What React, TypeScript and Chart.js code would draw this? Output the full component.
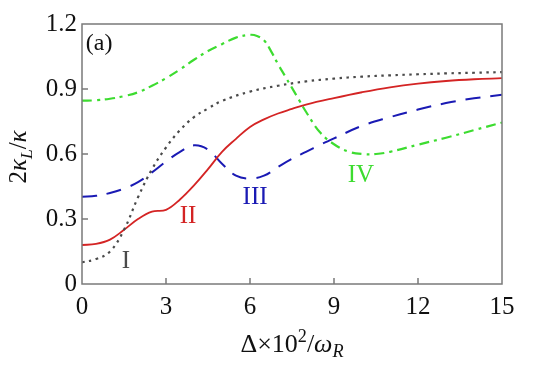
import React, { useEffect, useRef } from "react";
import { Chart, registerables } from "chart.js";

Chart.register(...registerables);

const xI = [0, 0.5, 1, 1.5, 2, 2.5, 3, 3.5, 4, 4.5, 5, 6, 7, 8, 9, 10, 11, 12, 13, 14, 15];
const yI = [0.1, 0.115, 0.15, 0.25, 0.4, 0.53, 0.63, 0.71, 0.77, 0.81, 0.845, 0.888, 0.915, 0.935, 0.948, 0.957, 0.963, 0.968, 0.972, 0.975, 0.978];

const xII = [0, 0.5, 1, 1.5, 2, 2.5, 3, 3.5, 4, 4.5, 5, 5.5, 6, 6.5, 7, 7.5, 8, 9, 10, 11, 12, 13, 14, 15];
const yII = [0.18, 0.185, 0.205, 0.25, 0.3, 0.334, 0.342, 0.39, 0.455, 0.53, 0.61, 0.67, 0.725, 0.76, 0.787, 0.808, 0.828, 0.858, 0.885, 0.908, 0.925, 0.937, 0.945, 0.95];

const xIII = [0, 0.5, 1, 1.5, 2, 2.5, 3, 3.5, 4, 4.5, 5, 5.5, 6, 6.5, 7, 7.5, 8, 8.5, 9, 10, 11, 12, 13, 14, 15];
const yIII = [0.403, 0.407, 0.42, 0.44, 0.47, 0.515, 0.565, 0.61, 0.64, 0.62, 0.555, 0.5, 0.487, 0.5, 0.54, 0.578, 0.61, 0.642, 0.672, 0.73, 0.77, 0.805, 0.835, 0.857, 0.873];

const xIV = [0, 0.5, 1, 1.5, 2, 2.5, 3, 3.5, 4, 4.5, 5, 5.5, 6, 6.25, 6.5, 6.75, 7, 7.25, 7.5, 7.75, 8, 8.5, 9, 9.5, 10, 10.5, 11, 12, 13, 14, 15];
const yIV = [0.846, 0.848, 0.855, 0.867, 0.885, 0.915, 0.95, 0.99, 1.035, 1.075, 1.107, 1.137, 1.15, 1.145, 1.125, 1.075, 1.015, 0.96, 0.905, 0.85, 0.795, 0.7, 0.645, 0.612, 0.6, 0.6, 0.61, 0.643, 0.675, 0.71, 0.745];

const xTicks = [0, 3, 6, 9, 12, 15];
const yTicks = [0, 0.3, 0.6, 0.9, 1.2];

const curveLabels = ["I", "II", "III", "IV"];
const labelX = [1.57, 3.79, 6.18, 9.96];
const labelY = [0.106, 0.31, 0.4, 0.503];
const panelLabel = "(a)";
const panelX = 0.61;
const panelY = 1.108;

const SERIF = "'Liberation Serif', 'Times New Roman', Times, serif";
const colors = ["#4a4a4a", "#d42424", "#1a1ab4", "#3ddc30"];

type Part = { t: string; it?: boolean; sub?: boolean; sup?: boolean };

function drawRich(ctx: CanvasRenderingContext2D, parts: Part[], cx: number, cy: number, size: number, rot: number) {
  ctx.save();
  ctx.translate(cx, cy);
  ctx.rotate(rot);
  ctx.fillStyle = "#111";
  ctx.textBaseline = "alphabetic";
  ctx.textAlign = "left";
  const fontOf = (p: Part) => {
    const s = p.sub || p.sup ? size * 0.7 : size;
    return `${p.it ? "italic " : ""}${s}px ${SERIF}`;
  };
  let total = 0;
  const widths = parts.map((p) => {
    ctx.font = fontOf(p);
    const w = ctx.measureText(p.t).width;
    total += w;
    return w;
  });
  let x = -total / 2;
  const base = size * 0.33;
  parts.forEach((p, i) => {
    ctx.font = fontOf(p);
    let dy = 0;
    if (p.sub) dy = size * 0.22;
    if (p.sup) dy = -size * 0.38;
    ctx.fillText(p.t, x, base + dy);
    x += widths[i];
  });
  ctx.restore();
}

const framePlugin = {
  id: "frame",
  afterDraw(chart: any) {
    const { ctx, chartArea } = chart;
    const { left, right, top, bottom } = chartArea;
    const xs = chart.scales.x;
    const ys = chart.scales.y;
    ctx.save();
    ctx.strokeStyle = "#7a7a7a";
    ctx.lineWidth = 1.5;
    ctx.strokeRect(left, top, right - left, bottom - top);
    ctx.beginPath();
    xTicks.forEach((v) => {
      if (v === xTicks[0] || v === xTicks[xTicks.length - 1]) return;
      const px = xs.getPixelForValue(v);
      ctx.moveTo(px, bottom);
      ctx.lineTo(px, bottom - 6);
    });
    yTicks.forEach((v) => {
      if (v === yTicks[0] || v === yTicks[yTicks.length - 1]) return;
      const py = ys.getPixelForValue(v);
      ctx.moveTo(left, py);
      ctx.lineTo(left + 6, py);
    });
    ctx.stroke();

    ctx.textAlign = "center";
    ctx.textBaseline = "middle";
    ctx.font = `25px ${SERIF}`;
    curveLabels.forEach((t, i) => {
      ctx.fillStyle = colors[i];
      ctx.fillText(t, xs.getPixelForValue(labelX[i]), ys.getPixelForValue(labelY[i]));
    });
    ctx.fillStyle = "#111";
    ctx.font = `24px ${SERIF}`;
    ctx.fillText(panelLabel, xs.getPixelForValue(panelX), ys.getPixelForValue(panelY));

    drawRich(
      ctx,
      [{ t: "Δ×10" }, { t: "2", sup: true }, { t: "/" }, { t: "ω", it: true }, { t: "R", it: true, sub: true }],
      (left + right) / 2,
      343,
      26,
      0
    );
    drawRich(
      ctx,
      [{ t: "2" }, { t: "κ", it: true }, { t: "L", it: true, sub: true }, { t: "/" }, { t: "κ", it: true }],
      18,
      (top + bottom) / 2 + 3,
      25,
      -Math.PI / 2
    );
    ctx.restore();
  },
};

function toPts(xs: number[], ys: number[]) {
  return xs.map((x, i) => ({ x, y: ys[i] }));
}

export default function App() {
  const ref = useRef<HTMLCanvasElement>(null);
  useEffect(() => {
    if (!ref.current) return;
    const ds = (label: string, xs: number[], ys: number[], color: string, dash: number[], w: number) => ({
      label,
      data: toPts(xs, ys),
      borderColor: color,
      borderWidth: w,
      borderDash: dash,
      pointRadius: 0,
      fill: false,
      tension: 0.4,
      borderCapStyle: "butt" as const,
    });
    const chart = new Chart(ref.current, {
      type: "line",
      data: {
        datasets: [
          ds("I", xI, yI, colors[0], [2.5, 4.5], 2.2),
          ds("II", xII, yII, colors[1], [], 1.8),
          ds("III", xIII, yIII, colors[2], [15, 10], 2),
          ds("IV", xIV, yIV, colors[3], [10, 5, 3, 5], 2.2),
        ],
      },
      options: {
        animation: false,
        responsive: false,
        maintainAspectRatio: false,
        layout: { padding: { left: 0, top: 24, right: 34, bottom: 0 } },
        plugins: { legend: { display: false }, tooltip: { enabled: false } },
        scales: {
          x: {
            type: "linear",
            min: 0,
            max: 15,
            afterFit: (s: any) => {
              s.height = 85;
            },
            afterBuildTicks: (s: any) => {
              s.ticks = xTicks.map((v) => ({ value: v }));
            },
            grid: { display: false, drawTicks: false },
            border: { display: false },
            ticks: {
              padding: 8,
              color: "#111",
              font: { family: SERIF, size: 25 },
              maxRotation: 0,
              callback: (v: any) => String(v),
            },
          },
          y: {
            type: "linear",
            min: 0,
            max: 1.2,
            afterFit: (s: any) => {
              s.width = 82;
            },
            afterBuildTicks: (s: any) => {
              s.ticks = yTicks.map((v) => ({ value: v }));
            },
            grid: { display: false, drawTicks: false },
            border: { display: false },
            ticks: {
              padding: 5,
              color: "#111",
              font: { family: SERIF, size: 25 },
              callback: (v: any) => (v === 0 ? "0" : Number(v).toFixed(1)),
            },
          },
        },
      },
      plugins: [framePlugin],
    });
    let alive = true;
    if ((document as any).fonts && (document as any).fonts.load) {
      Promise.all([
        (document as any).fonts.load(`25px 'Liberation Serif'`),
        (document as any).fonts.load(`italic 25px 'Liberation Serif'`),
      ])
        .then(() => {
          if (alive) chart.update();
        })
        .catch(() => {});
    }
    return () => {
      alive = false;
      chart.destroy();
    };
  }, []);
  return (
    <div style={{ position: "absolute", left: 0, top: 0, width: 536, height: 369, background: "#fff" }}>
      <canvas ref={ref} width={536} height={369} style={{ width: 536, height: 369 }} />
    </div>
  );
}
